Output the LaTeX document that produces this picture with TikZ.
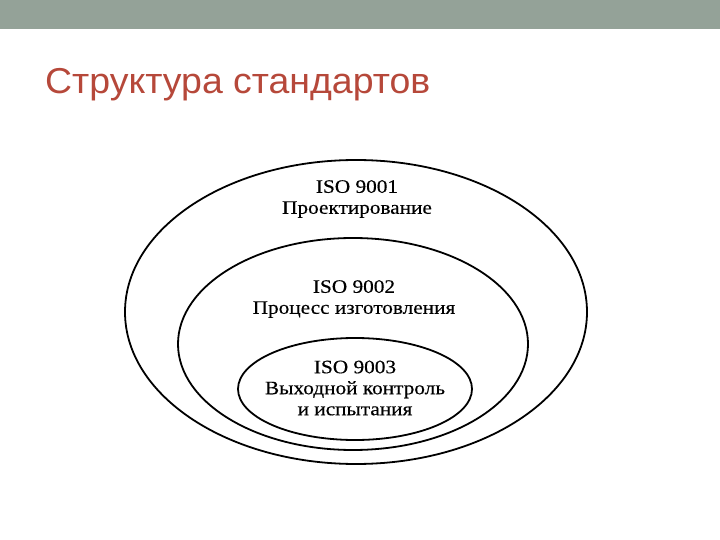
\documentclass[tikz,border=0pt]{standalone}
\usepackage{fontspec}
\setmainfont{Liberation Serif}
\newfontfamily\titlefont[FakeStretch=1.04]{Liberation Sans}
\newfontfamily\labelfont[FakeStretch=1.12, FakeBold=0.4]{Liberation Serif}
\usetikzlibrary{shapes.geometric, positioning}
\definecolor{bargray}{RGB}{148,162,152}
\definecolor{titlered}{RGB}{182,72,58}

\begin{document}
\begin{tikzpicture}[
        x=1pt, y=-1pt,
        level/.style={ellipse, draw, line width=1.8pt, inner sep=0pt},
        lbl/.style={font=\labelfont\fontsize{19}{21}\selectfont, align=center, inner sep=0pt}
    ]
    \useasboundingbox (0,0) rectangle (720,540);

    % Header
    \fill[bargray] (0,0) rectangle (720,29);
    \node[anchor=base west, inner sep=0pt, text=titlered,
        font=\titlefont\fontsize{36}{40}\selectfont] (title) at (45,94) {Структура стандартов};

    % Nested levels
    \node[level, minimum width=462pt, minimum height=304pt] (iso1) at (356,312) {};
    \node[level, minimum width=350pt, minimum height=212pt] (iso2) at (353,344) {};
    \node[level, minimum width=234pt, minimum height=102pt] (iso3) at (355,389) {};

    % Labels
    \node[lbl] (l1) at (357,199) {ISO 9001\\Проектирование};
    \node[lbl] (l2) at (354,299) {ISO 9002\\Процесс изготовления};
    \node[lbl] (l3) at (355,388) {ISO 9003\\Выходной контроль\\и испытания};
\end{tikzpicture}
\end{document}
